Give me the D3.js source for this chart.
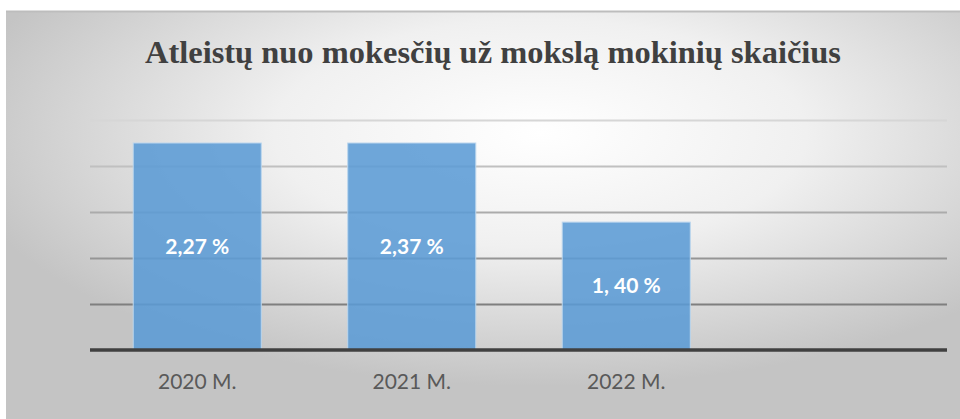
<!DOCTYPE html>
<html>
<head>
<meta charset="utf-8">
<script src="https://cdn.jsdelivr.net/npm/d3@7"></script>
<style>
  html, body { margin: 0; padding: 0; background: #fff; }
  svg { display: block; }
</style>
</head>
<body>
<div id="chart"></div>
<script>
let width = 960, height = 419;

// Chart data
let categories = ["2020 M.", "2021 M.", "2022 M."];
let barValues = [4.5, 4.5, 2.78];          // bar heights as drawn (axis units)
let barLabels = ["2,27 %", "2,37 %", "1, 40 %"];
let gridTicks = [1, 2, 3, 4, 5];
let title = "Atleistų nuo mokesčių už mokslą mokinių skaičius";

let svg = d3.select("#chart")
    .append("svg")
    .attr("width", width)
    .attr("height", height);

// Panel background with a soft radial gradient
let defs = svg.append("defs");
let bg = defs.append("radialGradient")
    .attr("id", "bg")
    .attr("cx", "56%")
    .attr("cy", "30%")
    .attr("r", "62%");
bg.append("stop").attr("offset", "0%").attr("stop-color", "#ffffff");
bg.append("stop").attr("offset", "45%").attr("stop-color", "#f0f0f0");
bg.append("stop").attr("offset", "100%").attr("stop-color", "#c4c4c4");

svg.append("rect")
    .attr("x", 6)
    .attr("y", 11)
    .attr("width", width - 6)
    .attr("height", height - 11)
    .attr("fill", "url(#bg)");

svg.append("line")
    .attr("x1", 6).attr("x2", width)
    .attr("y1", 11.5).attr("y2", 11.5)
    .attr("stroke", "#bdbdbd")
    .attr("stroke-width", 2);

// Title (narrow, tall serif)
svg.append("text")
    .attr("x", 493)
    .attr("y", 63)
    .attr("text-anchor", "middle")
    .attr("font-family", "'Liberation Serif', 'Times New Roman', serif")
    .attr("font-weight", "bold")
    .attr("font-size", 32)
    .attr("fill", "#404040")
    .attr("textLength", 696)
    .attr("lengthAdjust", "spacingAndGlyphs")
    .text(title);

// Scales
let plotLeft = 90, plotRight = 947, baseY = 350, topY = 120;

let y = d3.scaleLinear()
    .domain([0, 5])
    .range([baseY, topY]);

let x = d3.scaleBand()
    .domain(categories)
    .range([plotLeft, plotLeft + 3 * 214.5])
    .paddingInner(0.403)
    .paddingOuter(0.2015);

// Gridlines get darker toward the bottom
let gridColor = d3.scaleLinear()
    .domain([1, 5])
    .range(["#7f7f7f", "#d6d6d6"]);

let grid = svg.append("g")
    .attr("transform", `translate(${plotLeft},0)`)
    .call(d3.axisLeft(y)
        .tickValues(gridTicks)
        .tickSize(-(plotRight - plotLeft))
        .tickFormat(""));
grid.select(".domain").remove();
grid.selectAll(".tick line")
    .attr("stroke", d => gridColor(d))
    .attr("stroke-width", 2);

// Bars
svg.append("g")
    .selectAll("rect")
    .data(barValues)
    .enter()
    .append("rect")
    .attr("x", (d, i) => x(categories[i]))
    .attr("y", d => y(d))
    .attr("width", x.bandwidth())
    .attr("height", d => baseY - y(d))
    .attr("fill", "#5b9bd5")
    .attr("fill-opacity", 0.88)
    .attr("stroke", "#bcd6ee")
    .attr("stroke-width", 1);

// Data labels centred in the bars
svg.append("g")
    .selectAll("text")
    .data(barValues)
    .enter()
    .append("text")
    .attr("x", (d, i) => x(categories[i]) + x.bandwidth() / 2)
    .attr("y", d => (y(d) + baseY) / 2)
    .attr("dy", "0.35em")
    .attr("text-anchor", "middle")
    .attr("font-family", "Lato, 'Open Sans', sans-serif")
    .attr("font-weight", "bold")
    .attr("font-size", 21)
    .attr("fill", "#ffffff")
    .text((d, i) => barLabels[i]);

// Category axis
let xAxis = svg.append("g")
    .attr("transform", `translate(0,${baseY})`)
    .call(d3.axisBottom(x).tickSize(0).tickPadding(24));
xAxis.select(".domain").remove();
xAxis.selectAll("text")
    .attr("font-family", "Lato, 'Open Sans', sans-serif")
    .attr("font-size", 21)
    .attr("fill", "#595959");

// Baseline
svg.append("line")
    .attr("x1", plotLeft).attr("x2", plotRight)
    .attr("y1", baseY).attr("y2", baseY)
    .attr("stroke", "#404040")
    .attr("stroke-width", 3.5);
</script>
</body>
</html>
